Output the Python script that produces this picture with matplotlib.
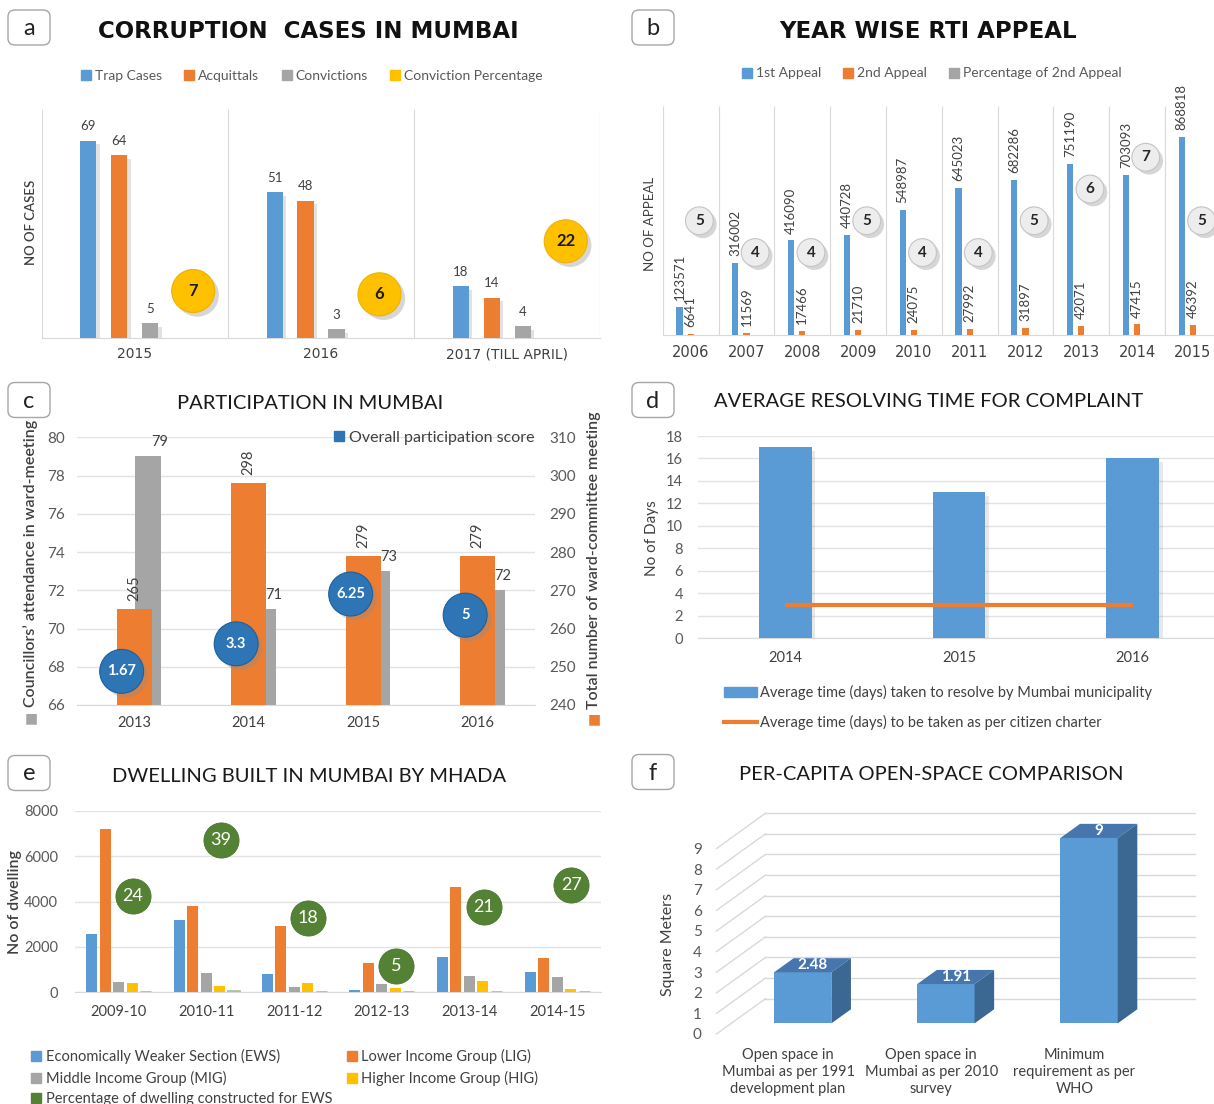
import numpy as np
import matplotlib
matplotlib.use('Agg')
import matplotlib.pyplot as plt
import matplotlib.patheffects as pe
from matplotlib.patches import FancyBboxPatch, Polygon, Patch
from matplotlib.lines import Line2D

# ---------------- data ----------------
a_cats = ['2015', '2016', '2017 (TILL APRIL)']
a_trap = [69, 51, 18]
a_acq = [64, 48, 14]
a_conv = [5, 3, 4]
a_pct = [7, 6, 22]

b_years = ['2006', '2007', '2008', '2009', '2010', '2011', '2012', '2013', '2014', '2015']
b_first = [123571, 316002, 416090, 440728, 548987, 645023, 682286, 751190, 703093, 868818]
b_second = [6641, 11569, 17466, 21710, 24075, 27992, 31897, 42071, 47415, 46392]
b_pct = [5, 4, 4, 5, 4, 4, 5, 6, 7, 5]

c_years = ['2013', '2014', '2015', '2016']
c_attend = [79, 71, 73, 72]
c_meetings = [265, 298, 279, 279]
c_score = [1.67, 3.3, 6.25, 5]

d_years = ['2014', '2015', '2016']
d_actual = [17, 13, 16]
d_charter = [3, 3, 3]

e_years = ['2009-10', '2010-11', '2011-12', '2012-13', '2013-14', '2014-15']
e_ews = [2590, 3190, 820, 110, 1560, 900]
e_lig = [7220, 3810, 2940, 1300, 4630, 1510]
e_mig = [450, 870, 220, 350, 710, 680]
e_hig = [400, 280, 410, 210, 510, 160]
e_pct = [24, 39, 18, 5, 21, 27]

f_cats = ['Open space in\nMumbai as per 1991\ndevelopment plan',
          'Open space in\nMumbai as per 2010\nsurvey',
          'Minimum\nrequirement as per\nWHO']
f_vals = [2.48, 1.91, 9]

# ---------------- style ----------------
BLUE = '#5B9BD5'
ORANGE = '#ED7D31'
GRAY = '#A5A5A5'
YELLOW = '#FFC000'
GREEN = '#548235'
DBLUE = '#2E75B6'
TXT = '#404040'
TICK = '#595959'
GRID = '#E3E3E3'

W, H = 1214, 1104
plt.rcParams['font.family'] = ['Lato', 'DejaVu Sans']
fig = plt.figure(figsize=(W / 100, H / 100), dpi=100)
fig.patch.set_facecolor('white')


def fx(x):
    return x / W


def fy(y):
    return 1 - y / H


def px_axes(x0, y0, x1, y1):
    return fig.add_axes([fx(x0), fy(y1), (x1 - x0) / W, (y1 - y0) / H])


def clean(ax):
    for s in ax.spines.values():
        s.set_visible(False)
    ax.tick_params(length=0)


def shadow(off=2.5, a=0.3):
    return [pe.SimplePatchShadow(offset=(off, -off), shadow_rgbFace='#8C8C8C', alpha=a), pe.Normal()]


def panel_label(cx, cy, letter):
    fig.patches.append(FancyBboxPatch((fx(cx - 21), fy(cy + 17.5)), 42 / W, 35 / H,
                                      boxstyle='round,pad=0,rounding_size=0.006',
                                      transform=fig.transFigure, fc='white', ec='#A6A6A6', lw=1.0))
    fig.text(fx(cx), fy(cy + 1), letter, ha='center', va='center', fontsize=17, color='#222222')


def sq(col):
    return Line2D([], [], marker='s', ls='', color=col, markersize=6.5)


WIDE = ['DejaVu Sans']

# ================= panel a =================
panel_label(29, 27.5, 'a')
fig.text(fx(308.5), fy(32), 'CORRUPTION  CASES IN MUMBAI', ha='center', va='center',
         fontsize=16.5, fontweight='bold', family=WIDE, color='#111111')
fig.legend([sq(BLUE), sq(ORANGE), sq(GRAY), sq(YELLOW)],
           ['Trap Cases', 'Acquittals', 'Convictions', 'Conviction Percentage'],
           loc='center', bbox_to_anchor=(fx(312), fy(75.7)), ncol=4, frameon=False, fontsize=10,
           handlelength=0.7, handletextpad=0.3, columnspacing=1.6, labelcolor=TICK)

axa = px_axes(41.6, 109.4, 600.4, 337.7)
xa = np.arange(len(a_cats))
step, bw = 0.166, 0.087
for vals, col, k in ((a_trap, BLUE, -1.5), (a_acq, ORANGE, -0.5), (a_conv, GRAY, 0.5)):
    xs = xa + k * step
    axa.bar(xs, vals, bw, color=col, zorder=3, path_effects=shadow(2.5, 0.25))
    for xi, v in zip(xs, vals):
        axa.annotate(f'{v}', (xi, v), xytext=(0, 6), textcoords='offset points',
                     ha='center', va='bottom', fontsize=9.5, color=TXT)
axa.set_xlim(-0.5, len(a_cats) - 0.5)
axa.set_ylim(0, 80)
clean(axa)
axa.spines['bottom'].set_visible(True)
axa.spines['bottom'].set_color('#D9D9D9')
axa.vlines(np.arange(len(a_cats) + 1) - 0.5, 0, 80, color='#D9D9D9', lw=0.8, zorder=1)
axa.set_yticks([])
axa.set_xticks(xa, a_cats, fontsize=10, color=TXT, family=WIDE)
axa.tick_params(axis='x', pad=7)
axa2 = axa.twinx()
axa2.set_ylim(-7.09, 61.8)
axa2.axis('off')
axa2.scatter(xa + 0.314, a_pct, s=960, color=YELLOW, edgecolors='#EDB200', linewidths=0.8,
             zorder=5, path_effects=shadow(3, 0.35))
for xi, v in zip(xa + 0.314, a_pct):
    axa2.text(xi, v, f'{v}', ha='center', va='center', fontsize=12, fontweight='bold',
              color='#1A1A1A', zorder=7)
fig.text(fx(31), fy(222), 'NO OF CASES', rotation=90, ha='center', va='center', fontsize=9.5,
         color=TXT, fontweight='semibold')

# ================= panel b =================
panel_label(653, 27.5, 'b')
fig.text(fx(928.3), fy(31), 'YEAR WISE RTI APPEAL', ha='center', va='center',
         fontsize=16.5, fontweight='bold', family=WIDE, color='#111111')
fig.legend([sq(BLUE), sq(ORANGE), sq(GRAY)],
           ['1st Appeal', '2nd Appeal', 'Percentage of 2nd Appeal'],
           loc='center', bbox_to_anchor=(fx(932), fy(73.4)), ncol=3, frameon=False, fontsize=10,
           handlelength=0.7, handletextpad=0.3, columnspacing=1.6, labelcolor=TICK)

axb = px_axes(662.8, 105.6, 1220.8, 335.3)
xb = np.arange(len(b_years))
bwb = 0.11
axb.bar(xb - 0.2, b_first, bwb, color=BLUE, zorder=3)
axb.bar(xb, b_second, bwb, color=ORANGE, zorder=3)
axb.bar(xb + 0.2, b_pct, bwb, color=GRAY, zorder=3)
for xs, vals in ((xb - 0.2, b_first), (xb, b_second)):
    for xi, v in zip(xs, vals):
        axb.annotate(f'{v}', (xi, v), xytext=(0, 5), textcoords='offset points', rotation=90,
                     ha='center', va='bottom', fontsize=9.5, color=TXT)
axb.set_xlim(-0.5, len(b_years) - 0.5)
axb.set_ylim(0, 1.008e6)
clean(axb)
axb.spines['bottom'].set_visible(True)
axb.spines['bottom'].set_color('#D9D9D9')
axb.vlines(np.arange(len(b_years) + 1) - 0.5, 0, 1.008e6, color='#D9D9D9', lw=0.8, zorder=1)
axb.set_yticks([])
axb.set_xticks(xb, b_years, fontsize=10.5, color=TXT, family=WIDE)
axb.tick_params(axis='x', pad=7)
axb2 = axb.twinx()
axb2.set_ylim(1.395, 8.626)
axb2.axis('off')
axb2.scatter(xb + 0.155, b_pct, s=400, color='#EDEDED', edgecolors='#C4C4C4', linewidths=0.8,
             zorder=5, path_effects=shadow(2.5, 0.35))
for xi, v in zip(xb + 0.155, b_pct):
    axb2.text(xi, v, f'{v}', ha='center', va='center', fontsize=11, fontweight='bold',
              color='#262626', zorder=7)
fig.text(fx(650.4), fy(224), 'NO OF APPEAL', rotation=90, ha='center', va='center', fontsize=9.5,
         color=TXT)

# ================= panel c =================
panel_label(29, 400, 'c')
fig.text(fx(309.8), fy(403.3), 'PARTICIPATION IN MUMBAI', ha='center', va='center', fontsize=14.5,
         color='#1A1A1A')
axc = px_axes(77, 437.3, 535, 705)
xc = np.arange(len(c_years))
axc.bar(xc + 0.124, c_attend, 0.227, color=GRAY, zorder=2)
axc.set_ylim(66, 80)
axc.set_xlim(-0.5, len(c_years) - 0.5)
clean(axc)
axc.spines['bottom'].set_visible(True)
axc.spines['bottom'].set_color('#D9D9D9')
axc.set_yticks(np.arange(66, 81, 2))
axc.yaxis.grid(True, color=GRID, lw=1)
axc.set_axisbelow(True)
axc.tick_params(axis='y', labelsize=11, labelcolor=TICK, pad=9)
axc.set_xticks(xc, c_years, fontsize=10.5, color=TXT)
axc.tick_params(axis='x', pad=8)
for xi, v in zip(xc + 0.124, c_attend):
    axc.annotate(f'{v}', (xi, v), xytext=(8, 5), textcoords='offset points',
                 ha='center', va='bottom', fontsize=10.5, color=TXT)
axc2 = axc.twinx()
axc2.bar(xc, c_meetings, 0.306, color=ORANGE, zorder=3)
axc2.set_ylim(240, 310)
clean(axc2)
axc2.set_yticks(np.arange(240, 311, 10))
axc2.tick_params(axis='y', labelsize=11, labelcolor=TICK, pad=10)
for xi, v in zip(xc, c_meetings):
    axc2.annotate(f'{v}', (xi, v), xytext=(0, 6), textcoords='offset points', rotation=90,
                  ha='center', va='bottom', fontsize=10.5, color=TXT)
axc3 = axc.twinx()
axc3.set_ylim(-0.323, 15.536)
axc3.axis('off')
axc3.scatter(xc - 0.11, c_score, s=1000, color=DBLUE, edgecolors='#1F5F99', linewidths=0.8,
             zorder=5, path_effects=shadow(3, 0.35))
for xi, v in zip(xc - 0.11, c_score):
    axc3.text(xi, v, f'{v}', ha='center', va='center', fontsize=10.5, fontweight='bold',
              color='white', zorder=7)
fig.legend([sq(DBLUE)], ['Overall participation score'], loc='center',
           bbox_to_anchor=(fx(434), fy(438)), frameon=False, fontsize=11.5,
           handlelength=0.7, handletextpad=0.3, labelcolor=TXT)
fig.text(fx(31), fy(563), 'Councillors\u2019 attendance in ward-meeting', rotation=90, ha='center',
         va='center', fontsize=11.5, fontweight='semibold', color=TXT)
fig.text(fx(31), fy(718), '\u25A0', ha='center', va='center', fontsize=10, color=GRAY,
         family=['DejaVu Sans'])
fig.text(fx(594), fy(560), 'Total number of ward-committee meeting', rotation=90, ha='center',
         va='center', fontsize=11.5, fontweight='semibold', color=TXT)
fig.text(fx(594), fy(719), '\u25A0', ha='center', va='center', fontsize=10, color=ORANGE,
         family=['DejaVu Sans'])

# ================= panel d =================
panel_label(653, 400, 'd')
fig.text(fx(928.4), fy(401.7), 'AVERAGE RESOLVING TIME FOR COMPLAINT', ha='center', va='center',
         fontsize=14.5, color='#1A1A1A')
axd = px_axes(698.4, 436, 1219.6, 638.3)
xd = np.arange(len(d_years))
axd.bar(xd, d_actual, 0.303, color=BLUE, zorder=3, path_effects=shadow(2.5, 0.2))
axd.plot(xd, d_charter, color=ORANGE, lw=3, zorder=4, solid_capstyle='butt')
axd.set_xlim(-0.5, len(d_years) - 0.5)
axd.set_ylim(0, 18)
clean(axd)
axd.spines['bottom'].set_visible(True)
axd.spines['bottom'].set_color('#D9D9D9')
axd.set_yticks(np.arange(0, 19, 2))
axd.yaxis.grid(True, color=GRID, lw=1)
axd.set_axisbelow(True)
axd.tick_params(axis='y', labelsize=10.5, labelcolor=TICK, pad=11)
axd.set_xticks(xd, d_years, fontsize=10.5, color=TXT)
axd.tick_params(axis='x', pad=9)
fig.text(fx(652.4), fy(538.3), 'No of Days', rotation=90, ha='center', va='center', fontsize=11,
         color=TXT)
fig.legend([Patch(color=BLUE), Line2D([], [], color=ORANGE, lw=3)],
           ['Average time (days) taken to resolve by Mumbai municipality',
            'Average time (days) to be taken as per citizen charter'],
           loc='upper left', bbox_to_anchor=(fx(711), fy(672)), frameon=False, fontsize=10.5,
           handlelength=2.25, handleheight=0.6, labelspacing=1.0, handletextpad=0.2,
           labelcolor=TXT)

# ================= panel e =================
panel_label(29, 773, 'e')
fig.text(fx(309), fy(776), 'DWELLING BUILT IN MUMBAI BY MHADA', ha='center', va='center',
         fontsize=14.5, color='#1A1A1A')
axe = px_axes(74.85, 811, 601, 992.3)
xe = np.arange(len(e_years))
stp, bwe = 0.154, 0.125
for k, (vals, col) in enumerate(((e_ews, BLUE), (e_lig, ORANGE), (e_mig, GRAY), (e_hig, YELLOW))):
    axe.bar(xe + (k - 2) * stp, vals, bwe, color=col, zorder=3)
axe.bar(xe + 2 * stp, e_pct, bwe, color='#A9C49A', edgecolor='#A9C49A', lw=2, zorder=3)
axe.set_xlim(-0.5, len(e_years) - 0.5)
axe.set_ylim(0, 8000)
clean(axe)
axe.spines['bottom'].set_visible(True)
axe.spines['bottom'].set_color('#D9D9D9')
axe.set_yticks(np.arange(0, 8001, 2000))
axe.yaxis.grid(True, color=GRID, lw=1)
axe.set_axisbelow(True)
axe.tick_params(axis='y', labelsize=10.5, labelcolor=TICK, pad=12)
axe.set_xticks(xe, e_years, fontsize=10.5, color=TXT)
axe.tick_params(axis='x', pad=9)
axe3 = axe.twinx()
axe3.set_ylim(-1.98, 46.92)
axe3.axis('off')
axe3.scatter(xe + 0.162, e_pct, s=640, color=GREEN, edgecolors='#4A7530', linewidths=0.6, zorder=5)
for xi, v in zip(xe + 0.162, e_pct):
    axe3.text(xi, v, f'{v}', ha='center', va='center', fontsize=13, color='white', zorder=7)
fig.text(fx(14.8), fy(901.7), 'No of dwelling', rotation=90, ha='center', va='center', fontsize=11.5,
         fontweight='semibold', color=TXT)
fig.legend([sq(BLUE), sq(GRAY), sq(GREEN), sq(ORANGE), sq(YELLOW)],
           ['Economically Weaker Section (EWS)', 'Middle Income Group (MIG)',
            'Percentage of dwelling constructed for EWS', 'Lower Income Group (LIG)',
            'Higher Income Group (HIG)'],
           ncol=2, loc='upper left', bbox_to_anchor=(fx(18), fy(1036)), frameon=False, fontsize=10.5,
           handlelength=0.7, handletextpad=0.3, columnspacing=1.0, labelspacing=0.45,
           labelcolor=TXT)

# ================= panel f =================
panel_label(653, 772, 'f')
fig.text(fx(930.8), fy(774), 'PER-CAPITA OPEN-SPACE COMPARISON', ha='center', va='center',
         fontsize=14.5, color='#1A1A1A')
axf = px_axes(706, 795, 1214, 1045)
axf.set_xlim(-0.573, 2.975)
axf.set_ylim(-0.534, 11.6)
DX, DY = 0.342, 1.714
d0, dd, bwf = 0.3, 0.4, 0.4
xf = np.arange(len(f_cats))
n = len(f_cats)
for v in range(10):
    axf.plot([-0.5, -0.5 + DX], [v, v + DY], color='#D9D9D9', lw=1, zorder=1)
    axf.plot([-0.5 + DX, n - 0.5 + DX], [v + DY, v + DY], color='#D9D9D9', lw=1, zorder=1)
bars = axf.bar(xf + d0 * DX, f_vals, bwf, bottom=d0 * DY, color=BLUE, zorder=3)
for b, v in zip(bars, f_vals):
    xl, xr = b.get_x(), b.get_x() + b.get_width()
    yb, yt = b.get_y(), b.get_y() + b.get_height()
    axf.add_patch(Polygon([(xl, yt), (xr, yt), (xr + dd * DX, yt + dd * DY), (xl + dd * DX, yt + dd * DY)],
                          closed=True, fc='#4676AD', ec='none', zorder=3))
    axf.add_patch(Polygon([(xr, yb), (xr + dd * DX, yb + dd * DY), (xr + dd * DX, yt + dd * DY), (xr, yt)],
                          closed=True, fc='#3B6892', ec='none', zorder=3))
    axf.text((xl + xr) / 2 + dd * DX / 2, yt + dd * DY / 2, f'{v:g}', ha='center', va='center',
             fontsize=11, fontweight='bold', color='white', zorder=4)
clean(axf)
axf.set_yticks(range(10))
axf.tick_params(axis='y', labelsize=11, labelcolor=TICK, pad=3)
axf.set_xticks(xf, f_cats, fontsize=10.5, color=TXT, linespacing=1.3)
axf.tick_params(axis='x', pad=2)
fig.text(fx(668), fy(945), 'Square Meters', rotation=90, ha='center', va='center', fontsize=11.5,
         color=TXT)

fig.savefig('out.png', dpi=100, facecolor='white')
